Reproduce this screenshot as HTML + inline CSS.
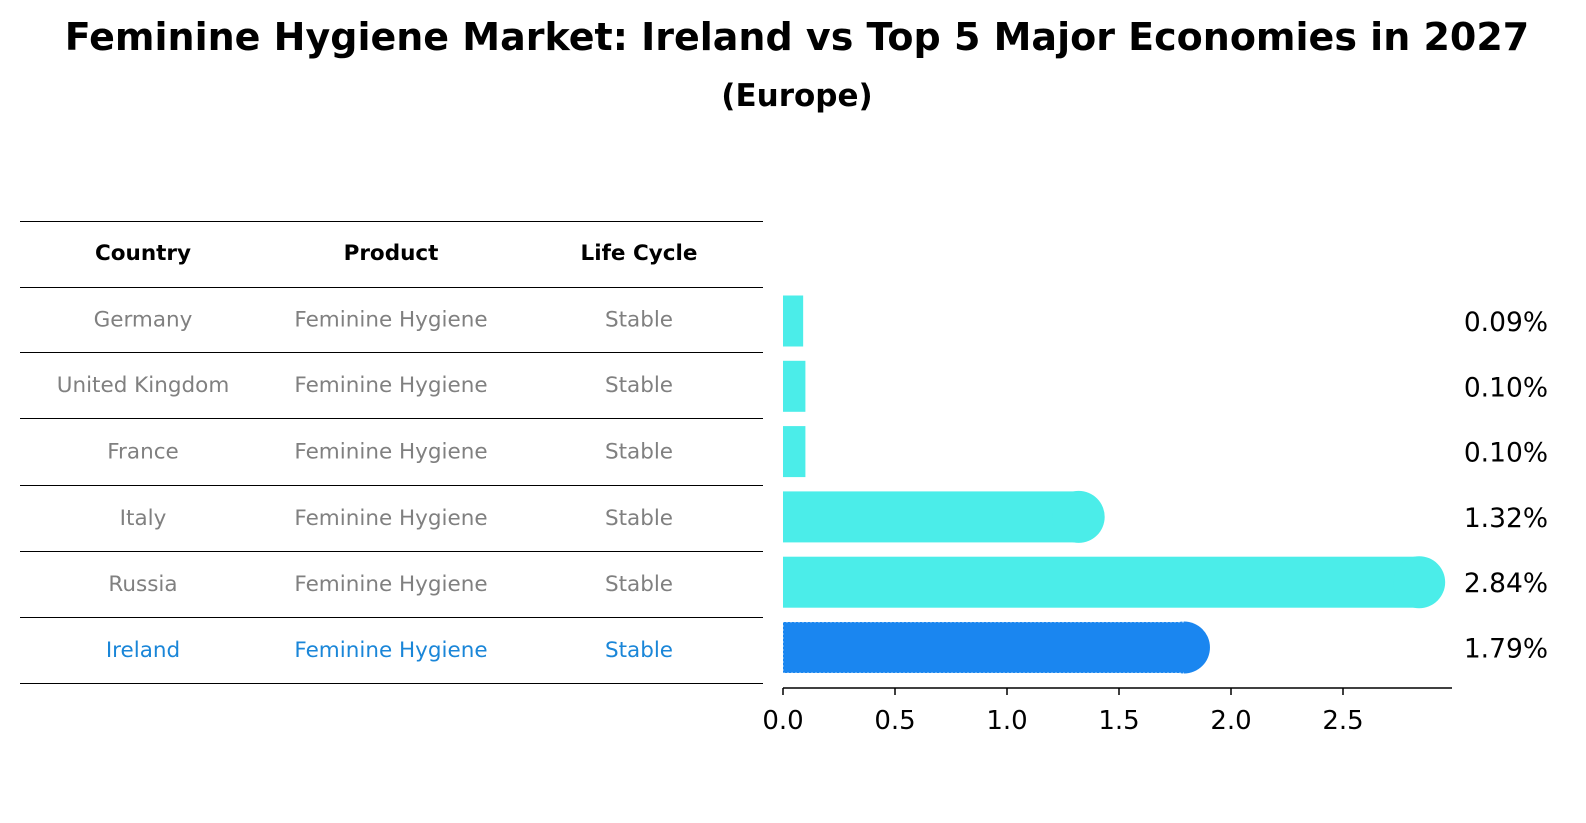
<!DOCTYPE html>
<html><head><meta charset="utf-8"><style>
body{margin:0;background:#fff;font-family:"Liberation Sans","DejaVu Sans",sans-serif;}
#wrap{position:relative;width:1586px;height:823px;overflow:hidden;}
.t{position:absolute;left:0;width:1586px;text-align:center;font-weight:bold;color:#000;}
</style></head><body>
<div id="wrap">
<div class="t" style="top:15px;left:4px;font-size:38px;font-family:'DejaVu Sans',sans-serif;">Feminine Hygiene Market: Ireland vs Top 5 Major Economies in 2027</div>
<div class="t" style="top:78px;left:4px;font-size:31px;font-family:'DejaVu Sans',sans-serif;">(Europe)</div>
<svg id="svg" width="1586" height="823" style="position:absolute;left:0;top:0"></svg>
</div>
<script>
const countries=["Germany","United Kingdom","France","Italy","Russia","Ireland"];
const products=["Feminine Hygiene","Feminine Hygiene","Feminine Hygiene","Feminine Hygiene","Feminine Hygiene","Feminine Hygiene"];
const lifeCycles=["Stable","Stable","Stable","Stable","Stable","Stable"];
const values=[0.09,0.10,0.10,1.32,2.84,1.79];
const valueLabels=["0.09%","0.10%","0.10%","1.32%","2.84%","1.79%"];
const ticks=[0,0.5,1.0,1.5,2.0,2.5];
const tickLabels=["0.0","0.5","1.0","1.5","2.0","2.5"];

const NS="http://www.w3.org/2000/svg";
const svg=document.getElementById('svg');
function mk(tag,attrs,parent){const e=document.createElementNS(NS,tag);for(const k in attrs)e.setAttribute(k,attrs[k]);(parent||svg).appendChild(e);return e;}
const x=v=>783+v*224;
const rowY=i=>321+i*65.3;
const FF="'DejaVu Sans',sans-serif";

// table
const lineYs=[221,287,352,418,485,551,617,683];
lineYs.forEach((yy,i)=>{const l=mk('line',{x1:20,x2:763,y1:yy+0.5,y2:yy+0.5,stroke:'#000','stroke-width':1});

});
const colX=[143,391,639];
["Country","Product","Life Cycle"].forEach((h,j)=>{const t=mk('text',{x:colX[j],y:260,'text-anchor':'middle','font-size':21.5,'font-weight':'bold','font-family':FF,fill:'#000'});t.textContent=h;

});
countries.forEach((c,i)=>{
  const col=i===countries.length-1?'#1a86d8':'#808080';
  const yy=(lineYs[i+1]+lineYs[i+2])/2+7;
  [c,products[i],lifeCycles[i]].forEach((s,j)=>{const t=mk('text',{x:colX[j],y:yy,'text-anchor':'middle','font-size':21.5,'font-family':FF,fill:col});t.textContent=s;
  
  });
});

// bars
const H=51,R=26;
values.forEach((v,i)=>{
  const isIre=i===values.length-1;
  const col=isIre?'#1a86f0':'#4bede9';
  const g=mk('g',{});
  
  
  const yc=rowY(i);
  mk('rect',{x:x(0),y:yc-H/2,width:x(v)-x(0),height:H,fill:col},g);
  if(v>0.5) mk('circle',{cx:x(v),cy:yc,r:R,fill:col},g);
  if(isIre) mk('path',{d:`M${x(v)},${yc-H/2}H${x(0)}V${yc+H/2}H${x(v)}`,fill:'none',stroke:'#ffffff','stroke-width':1,'stroke-dasharray':'2,2','stroke-opacity':0.6},g);
  const t=mk('text',{x:1548,y:yc+10,'text-anchor':'end','font-size':26.5,'font-family':FF,fill:'#000'});
  t.textContent=valueLabels[i];
  
  
});

// axis
const ax=mk('line',{x1:x(0),x2:1452,y1:688,y2:688,stroke:'#000','stroke-width':1.5});


ticks.forEach((tv,i)=>{
  const l=mk('line',{x1:x(tv),x2:x(tv),y1:688,y2:695,stroke:'#000','stroke-width':1.5});
  
  
  const t=mk('text',{x:x(tv),y:729,'text-anchor':'middle','font-size':26,'font-family':FF,fill:'#000'});
  t.textContent=tickLabels[i];
  
  
});
</script>
</body></html>
